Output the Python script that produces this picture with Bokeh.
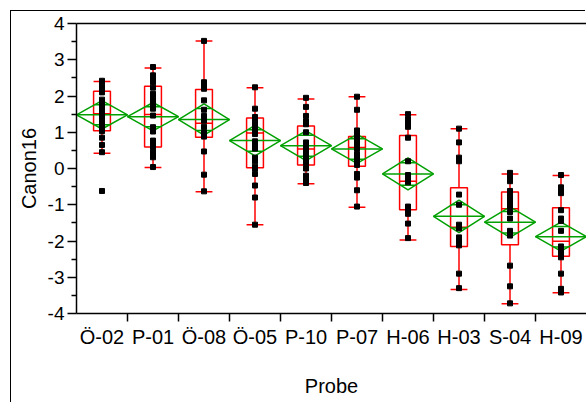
import math
from bokeh.plotting import figure
from bokeh.models import FixedTicker, LinearAxis, Range1d, ColumnDataSource
from bokeh.embed import file_html
from bokeh.resources import INLINE

categories = ["Ö-02", "P-01", "Ö-08", "Ö-05", "P-10", "P-07", "H-06", "H-03", "S-04", "H-09"]
y_ticks = [-4, -3, -2, -1, 0, 1, 2, 3, 4]

whisker_hi = [2.40, 2.77, 3.52, 2.23, 1.92, 1.98, 1.48, 1.10, -0.15, -0.19]
q3 = [2.13, 2.27, 2.18, 1.39, 1.17, 0.88, 0.91, -0.53, -0.65, -1.08]
median = [1.51, 1.49, 1.25, 0.98, 0.54, 0.58, -0.35, -1.62, -1.11, -2.01]
q1 = [1.04, 0.59, 0.86, 0.02, 0.10, 0.06, -1.14, -2.15, -2.10, -2.42]
whisker_lo = [0.42, 0.03, -0.64, -1.55, -0.42, -1.07, -1.97, -3.34, -3.73, -3.43]
means = [1.48, 1.43, 1.35, 0.77, 0.63, 0.54, -0.15, -1.32, -1.48, -1.88]
ci_half = [0.39, 0.39, 0.43, 0.42, 0.41, 0.40, 0.44, 0.45, 0.42, 0.40]

pts_O02 = [2.42, 2.38, 2.25, 2.18, 2.10, 1.90, 1.85, 1.78, 1.70, 1.62, 1.55, 1.50, 1.45, 1.35, 1.22, 1.10, 1.03, 0.85, 0.65, 0.45, -0.62]
pts_P01 = [2.80, 2.57, 2.47, 2.38, 2.23, 2.06, 1.97, 1.88, 1.77, 1.65, 1.46, 1.14, 1.02, 0.77, 0.66, 0.59, 0.45, 0.36, 0.31, 0.04]
pts_O08 = [3.52, 2.38, 2.32, 2.25, 2.20, 1.88, 1.62, 1.45, 1.32, 1.15, 1.00, 0.95, 0.88, 0.47, -0.17, -0.63]
pts_O05 = [2.24, 1.65, 1.42, 1.35, 1.25, 1.15, 1.05, 0.95, 0.75, 0.68, 0.55, 0.30, 0.20, 0.05, 0.00, -0.15, -0.47, -0.80, -1.55]
pts_P10 = [1.95, 1.70, 1.45, 1.30, 1.22, 1.00, 0.72, 0.65, 0.58, 0.45, 0.35, 0.25, 0.15, 0.00, -0.20, -0.30, -0.40]
pts_P07 = [1.98, 1.62, 1.05, 0.98, 0.90, 0.85, 0.75, 0.65, 0.55, 0.40, 0.28, 0.18, 0.10, -0.15, -0.25, -0.60, -1.05]
pts_H06 = [1.50, 1.35, 1.22, 1.15, 0.85, 0.20, -0.18, -0.25, -0.32, -0.38, -1.05, -1.12, -1.25, -1.52, -1.92]
pts_H03 = [1.10, 0.72, 0.30, 0.20, -0.72, -1.00, -1.55, -1.62, -1.65, -1.90, -1.98, -2.05, -2.12, -2.90, -3.30]
pts_S04 = [-0.12, -0.22, -0.35, -0.62, -0.75, -0.85, -0.95, -1.05, -1.20, -1.38, -1.72, -1.80, -1.85, -2.68, -3.25, -3.72]
pts_H09 = [-0.18, -0.52, -0.60, -0.68, -1.15, -1.38, -1.45, -1.72, -2.15, -2.25, -2.35, -2.45, -2.90, -3.32, -3.42]

point_groups = [pts_O02, pts_P01, pts_O08, pts_O05, pts_P10, pts_P07, pts_H06, pts_H03, pts_S04, pts_H09]

RED = "#FF0000"
GREEN = "#00A000"
FONT = "Liberation Sans"

n = len(categories)
xc = [i + 0.5 for i in range(n)]

p = figure(width=575, height=392, output_backend="svg", toolbar_location=None,
           x_range=Range1d(0, n), y_range=Range1d(-4, 4),
           min_border_left=65, min_border_right=0, min_border_top=12, min_border_bottom=90,
           x_axis_label="Probe", y_axis_label="Canon16",
           margin=(11, 0, 0, 11),
           styles={"box-shadow": "-1px -1px 0px 0px #000000"})
p.outline_line_color = None
p.xgrid.visible = False
p.ygrid.visible = False
p.background_fill_color = "white"
p.border_fill_color = "white"

# x axis
xa = p.xaxis[0]
xa.ticker = FixedTicker(ticks=xc, minor_ticks=[float(i) for i in range(1, n)])
xa.major_label_overrides = {x: c for x, c in zip(xc, categories)}
xa.major_tick_line_color = None
xa.major_tick_out = 8
xa.major_tick_in = 0
xa.minor_tick_line_color = "black"
xa.minor_tick_out = 8
xa.minor_tick_in = 0
xa.minor_tick_line_width = 1.5
xa.axis_line_width = 1.5
xa.axis_line_color = "black"
xa.major_label_standoff = 4
xa.major_label_text_font = FONT
xa.major_label_text_font_size = "20px"
xa.major_label_text_color = "black"
xa.axis_label_text_font = FONT
xa.axis_label_text_font_size = "20px"
xa.axis_label_text_font_style = "normal"
xa.axis_label_text_color = "black"
xa.axis_label_standoff = 24

# y axis
ya = p.yaxis[0]
ya.ticker = FixedTicker(ticks=y_ticks, minor_ticks=[k + 0.5 for k in y_ticks[:-1]])
ya.major_label_overrides = {k: str(k) for k in y_ticks}
ya.major_tick_out = 9
ya.major_tick_in = 0
ya.minor_tick_out = 5
ya.minor_tick_in = 0
ya.major_tick_line_width = 1.5
ya.minor_tick_line_width = 1.5
ya.major_tick_line_color = "black"
ya.minor_tick_line_color = "black"
ya.axis_line_width = 1.5
ya.axis_line_color = "black"
ya.major_label_standoff = 3
ya.major_label_text_font = FONT
ya.major_label_text_font_size = "19px"
ya.major_label_text_color = "black"
ya.axis_label_text_font = FONT
ya.axis_label_text_font_size = "20px"
ya.axis_label_text_font_style = "normal"
ya.axis_label_text_color = "black"
ya.axis_label_standoff = 5

# top frame line
top_axis = LinearAxis(ticker=FixedTicker(ticks=[0.5]), major_label_text_font_size="0px",
                      major_label_text_color=None, major_tick_in=0, major_tick_out=0,
                      major_tick_line_color=None, minor_tick_line_color=None,
                      axis_line_width=1.5, axis_line_color="black")
p.add_layout(top_axis, "above")

# box plots
bw = 0.165
box_src = ColumnDataSource(dict(x=xc, q1=q1, q3=q3, med=median, lo=whisker_lo, hi=whisker_hi,
                                left=[x - bw for x in xc], right=[x + bw for x in xc]))
p.segment(x0="x", y0="q3", x1="x", y1="hi", source=box_src, line_color=RED, line_width=1.5)
p.segment(x0="x", y0="q1", x1="x", y1="lo", source=box_src, line_color=RED, line_width=1.5)
p.segment(x0="left", y0="hi", x1="right", y1="hi", source=box_src, line_color=RED, line_width=1.5)
p.segment(x0="left", y0="lo", x1="right", y1="lo", source=box_src, line_color=RED, line_width=1.5)
p.quad(left="left", right="right", top="q3", bottom="q1", source=box_src,
       fill_color=None, line_color=RED, line_width=1.5)
p.segment(x0="left", y0="med", x1="right", y1="med", source=box_src, line_color=RED, line_width=1.5)

# means diamonds
dxs, dys = [], []
for i, (m, c) in enumerate(zip(means, ci_half)):
    dxs.append([i, i + 0.5, i + 1, i + 0.5, i])
    dys.append([m, m + c, m, m - c, m])
p.patches(xs=dxs, ys=dys, fill_color=None, line_color=GREEN, line_width=1.5)
p.segment(x0=[float(i) for i in range(n)], y0=means, x1=[float(i + 1) for i in range(n)], y1=means,
          line_color=GREEN, line_width=1.5)
hw = 0.5 * (1 - 1 / math.sqrt(2))
ov_x0, ov_x1, ov_y = [], [], []
for x, m, c in zip(xc, means, ci_half):
    for s in (1, -1):
        ov_x0.append(x - hw)
        ov_x1.append(x + hw)
        ov_y.append(m + s * c / math.sqrt(2))
p.segment(x0=ov_x0, y0=ov_y, x1=ov_x1, y1=ov_y, line_color=GREEN, line_width=1.5)

# points
px, py = [], []
for x, grp in zip(xc, point_groups):
    for v in grp:
        px.append(x)
        py.append(v)
p.scatter(x=px, y=py, marker="square", size=5, color="black")

open("out.html", "w").write(file_html(p, INLINE))
